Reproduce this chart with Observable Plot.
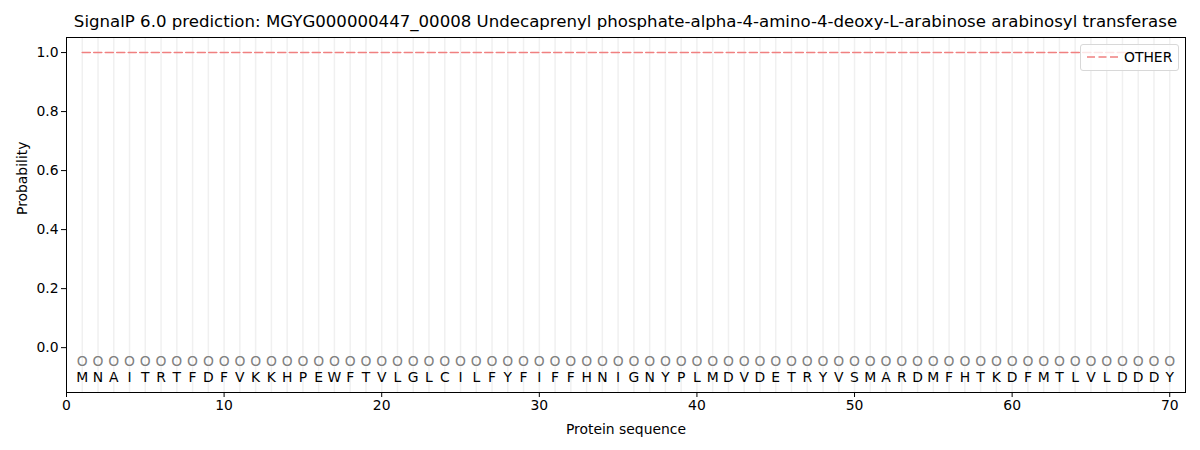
<!DOCTYPE html>
<html>
<head>
<meta charset="utf-8">
<script src="https://cdn.jsdelivr.net/npm/d3@7"></script>
<script src="https://cdn.jsdelivr.net/npm/@observablehq/plot@0.6"></script>
<style>
  body { margin: 0; background: #fff; font-family: "DejaVu Sans", sans-serif; }
  #wrap { position: relative; width: 1200px; height: 450px; }
  #title { position: absolute; left: 66px; width: 1119px; top: 0; height: 30px; line-height: 44px; text-align: center; font-size: 16.6px; color: #000; white-space: nowrap; }
  #chart { position: absolute; left: 0; top: 30px; }
  #legend { position: absolute; left: 1080px; top: 44px; width: 97px; height: 25px; border: 1px solid #d8d8d8; border-radius: 3px; background: rgba(255,255,255,0.8); font-size: 13.9px; }
  #legend svg { position: absolute; left: 4px; top: 7px; }
  #legend span { position: absolute; left: 43px; top: 4px; }
</style>
</head>
<body>
<div id="wrap">
  <div id="title">SignalP 6.0 prediction: MGYG000000447_00008 Undecaprenyl phosphate-alpha-4-amino-4-deoxy-L-arabinose arabinosyl transferase</div>
  <div id="chart"></div>
  <div id="legend"><svg width="36" height="10"><line x1="2" y1="5" x2="34" y2="5" stroke="#f08080" stroke-width="1.6" stroke-dasharray="8,3.5"/></svg><span>OTHER</span></div>
</div>
<script>
// secuencia y probabilidades
const secuencia = 'MNAITRTFDFVKKHPEWFTVLGLCILFYFIFFHNIGNYPLMDVDETRYVSMARDMFHTKDFMTLVLDDDY'.split('');
const posiciones = secuencia.map((_, i) => i + 1);
const probOther = posiciones.map(() => 1.0);
const etiquetaRegion = secuencia.map(() => 'O');
const ticksX = [0, 10, 20, 30, 40, 50, 60, 70];
const ticksY = [0.0, 0.2, 0.4, 0.6, 0.8, 1.0];

const tabla = posiciones.map((p, i) => ({pos: p, aa: secuencia[i], region: etiquetaRegion[i], other: probOther[i]}));

const chart = Plot.plot({
  width: 1200,
  height: 420,
  marginTop: 7,
  marginBottom: 58,
  marginLeft: 66,
  marginRight: 15,
  style: {fontFamily: '"DejaVu Sans", sans-serif', fontSize: '13.9px', color: '#000'},
  x: {domain: [0, 71], ticks: ticksX, tickSize: 5, tickFormat: d3.format('d'), label: null},
  y: {domain: [-0.152, 1.051], ticks: ticksY, tickSize: 5, tickFormat: d3.format('.1f'), label: null},
  marks: [
    Plot.ruleX(tabla, {x: 'pos', stroke: '#f0f0f0', strokeWidth: 1.5}),
    Plot.line(tabla, {x: 'pos', y: 'other', stroke: '#f08080', strokeWidth: 1.6, strokeDasharray: '8,3.5'}),
    Plot.text(tabla, {x: 'pos', y: -0.047, text: 'region', fill: '#808080', fontSize: 13.9}),
    Plot.text(tabla, {x: 'pos', y: -0.1, text: 'aa', fill: '#000', fontSize: 13.9}),
    Plot.axisX({ticks: ticksX, tickSize: 5, tickPadding: 3, label: null}),
    Plot.axisY({ticks: ticksY, tickSize: 5, tickPadding: 3, tickFormat: d3.format('.1f'), label: null}),
    Plot.text(['Protein sequence'], {frameAnchor: 'bottom', dy: 41, fontSize: 13.9}),
    Plot.text(['Probability'], {frameAnchor: 'left', dx: -44, rotate: -90, fontSize: 13.9}),
    Plot.frame({stroke: '#000'})
  ]
});

d3.select('#chart').append(() => chart);
</script>
</body>
</html>
